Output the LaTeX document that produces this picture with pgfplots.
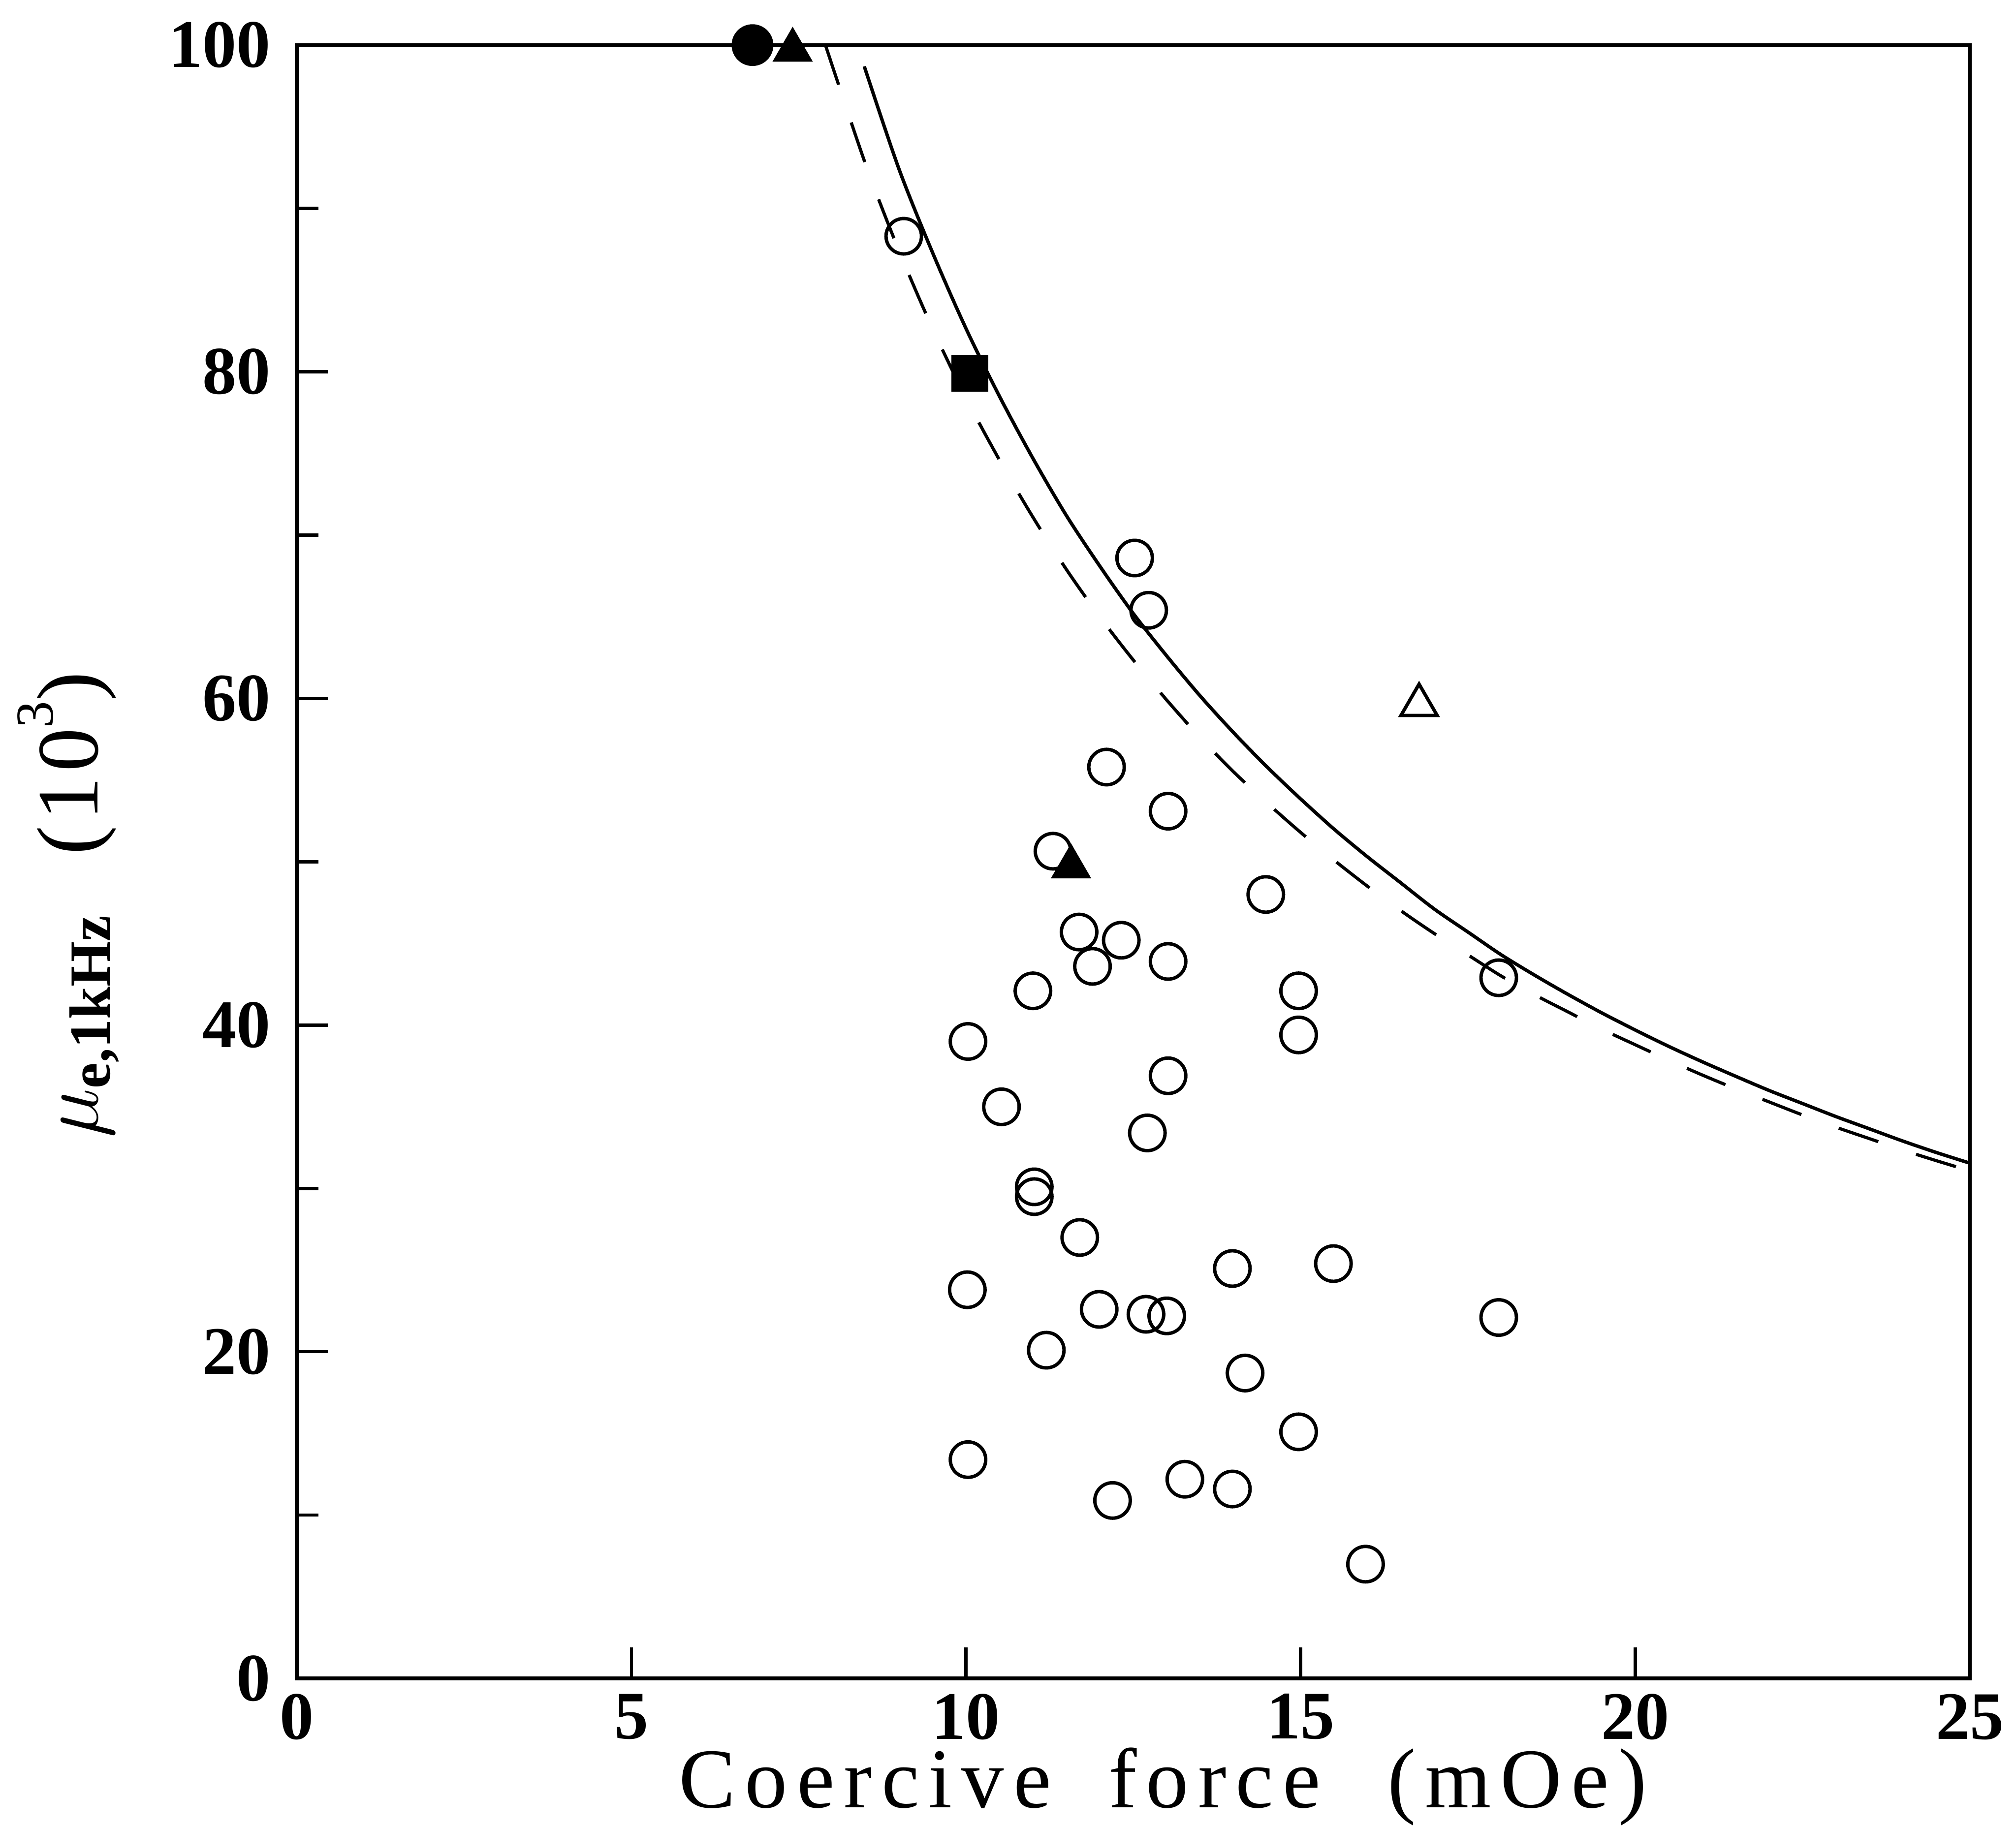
\documentclass[border=0pt]{standalone}
\usepackage{fontspec}
\usepackage{pgfplots}
\pgfplotsset{compat=1.18}
\newfontfamily\lib{Liberation Serif}
\newfontfamily\xlabfont[LetterSpace=11]{Liberation Serif}
\newfontfamily\ylabfont[LetterSpace=6]{Liberation Serif}
\begin{document}
\begin{tikzpicture}
\begin{axis}[
  name=ax,
  scale only axis,
  width=344.5pt, height=336.4pt,
  xmin=0, xmax=25, ymin=0, ymax=100,
  xtick={0,5,...,25}, ytick={0,20,...,100},
  minor ytick={10,30,...,90},
  tick pos=left,
  tick align=inside,
  major tick length=6.4pt,
  minor tick length=4.5pt,
  axis line style={line width=0.8pt},
  every tick/.style={line width=0.65pt, black},
  clip=false,
  /pgf/number format/assume math mode=true,
  ticklabel style={font=\lib\bfseries\fontsize{14}{14}\selectfont},
  xticklabel style={anchor=north, inner sep=0pt, yshift=-3.0pt},
  yticklabel style={anchor=east, inner sep=0pt, xshift=-5.2pt},
  xlabel={\xlabfont\fontsize{17.5}{20}\selectfont Coercive\hspace{5.5pt} force\hspace{7.5pt} (mOe)},
  xlabel style={at={(axis description cs:0.5177,0)}, anchor=base, yshift=-26.6pt, inner sep=0pt},
  ylabel={\fontsize{18}{21}\selectfont$\mu_{\mbox{\lib\bfseries\fontsize{12}{12}\selectfont e,1kHz}}$\hspace{12pt}{\ylabfont\fontsize{18}{21}\selectfont(10\raisebox{9.2pt}{\fontsize{11}{11}\selectfont 3})}},
  ylabel style={at={(axis description cs:-0.119,0.4735)}, anchor=base, inner sep=0pt},
]
% solid curve
\addplot[black, line width=0.7pt, smooth] coordinates {
(8.48,98.7)(9.0,92.4)(9.5,87.3)(10.0,82.65)(10.5,78.5)(11.0,74.7)(11.5,71.2)
(12.0,68.1)(12.5,65.2)(13.0,62.6)(13.5,60.15)(14.0,57.9)(14.5,55.8)(15.0,53.85)
(15.5,52.0)(16.0,50.3)(16.5,48.7)(17.0,47.1)(17.5,45.7)(18.0,44.3)(18.5,43.05)
(19.0,41.87)(19.5,40.75)(20.0,39.7)(20.5,38.7)(21.0,37.76)(21.5,36.87)(22.0,36.0)
(22.5,35.2)(23.0,34.4)(23.5,33.65)(24.0,32.9)(24.5,32.2)(25.0,31.55)
};
% dashed curve
\addplot[black, line width=0.65pt, smooth, dash pattern=on 8.6pt off 8.2pt] coordinates {
(7.90,100.0)(8.5,92.7)(9.0,87.4)(9.5,82.65)(10.0,78.4)(10.5,74.6)(11.0,71.1)
(11.5,67.9)(12.0,65.0)(12.5,62.35)(13.0,59.9)(13.5,57.6)(14.0,55.5)(14.5,53.6)
(15.0,51.8)(15.5,50.1)(16.0,48.5)(16.5,47.0)(17.0,45.6)(17.5,44.3)(18.0,43.0)
(18.5,41.85)(19.0,40.8)(19.5,39.75)(20.0,38.8)(20.5,37.85)(21.0,36.95)(21.5,36.1)
(22.0,35.3)(22.5,34.5)(23.0,33.75)(23.5,33.05)(24.0,32.35)(24.5,31.7)(25.0,31.08)
};
% open circles
\addplot[black, only marks, mark=o, mark size=3.65pt, mark options={line width=0.7pt}] coordinates {
(9.07,88.3)(12.52,68.6)(12.73,65.4)(12.10,55.8)(13.02,53.1)(11.30,50.65)
(14.48,48.0)(11.69,45.7)(12.32,45.2)(11.89,43.6)(13.02,43.9)(11.0,42.1)
(14.97,42.1)(17.96,42.9)(10.03,39.0)(14.97,39.4)(13.02,36.9)(10.53,35.0)
(12.71,33.4)(11.02,30.1)(11.02,29.5)(11.70,27.0)(10.02,23.8)(13.98,25.1)
(15.49,25.4)(11.99,22.6)(12.69,22.3)(13.0,22.2)(17.96,22.1)(11.20,20.1)
(14.17,18.7)(14.97,15.1)(10.03,13.4)(13.27,12.2)(13.98,11.6)(12.19,10.9)
(15.97,7.0)
};
% filled circle
\addplot[black, only marks, mark=*, mark size=4.1pt] coordinates {(6.81,100)};
% filled triangles
\addplot[black, only marks, mark=triangle*, mark size=4.4pt] coordinates {(7.41,99.7)(11.57,49.7)};
% filled square
\addplot[black, only marks, mark=square*, mark size=3.6pt] coordinates {(10.06,79.9)};
% open triangle
\addplot[black, only marks, mark=triangle, mark size=4.3pt, mark options={line width=0.7pt}] coordinates {(16.77,59.6)};
\end{axis}
\path ([shift={(-61.1pt,-30.5pt)}]ax.south west) rectangle ([shift={(9.5pt,9.3pt)}]ax.north east);
\end{tikzpicture}
\end{document}
